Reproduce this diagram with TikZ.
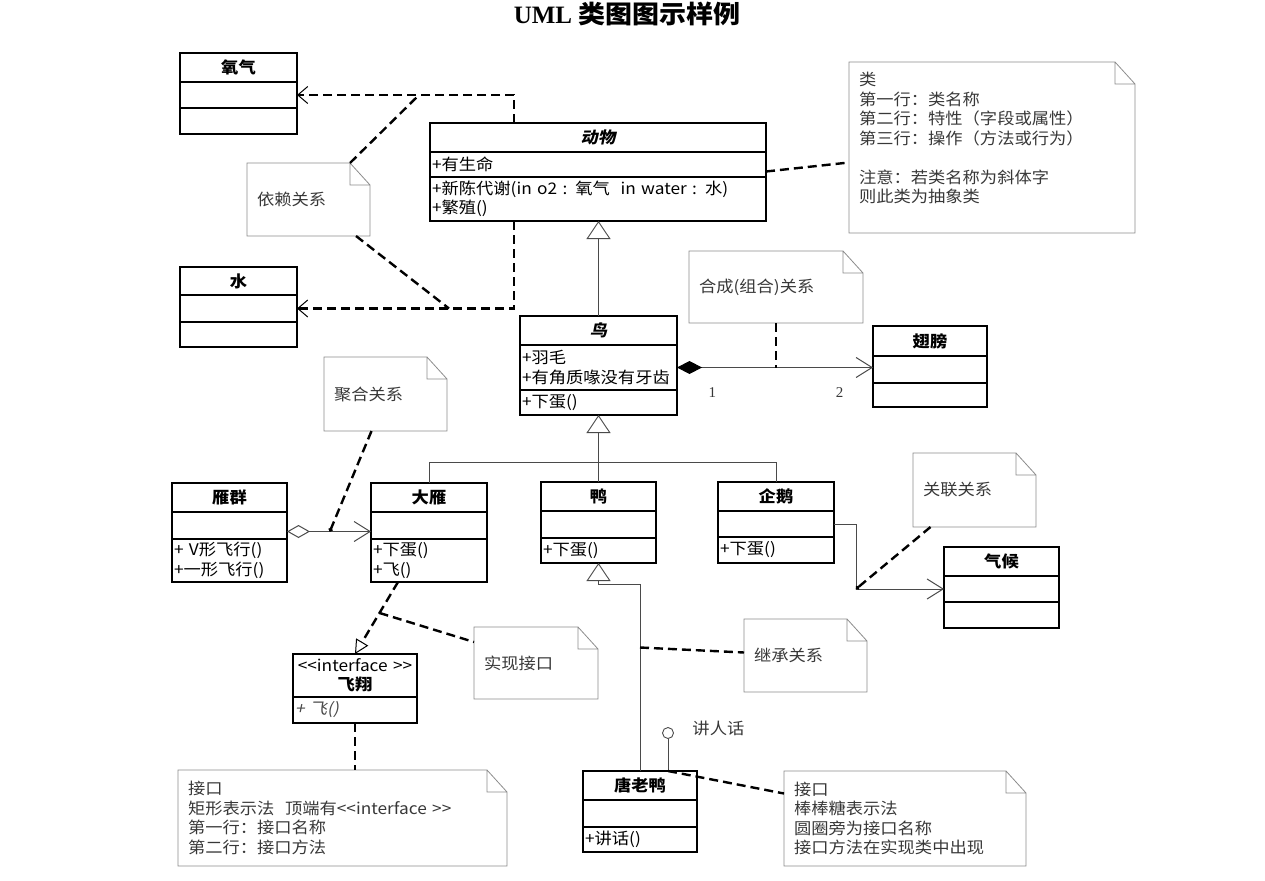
\documentclass[tikz,border=0pt]{standalone}
\usepackage{fontspec}
\setmainfont[AutoFakeSlant=0.2,FakeStretch=1.08]{Noto Sans CJK SC}
\newfontfamily\bislant[FakeSlant=0.2,FakeStretch=1.08]{Noto Sans CJK SC}
\newfontfamily\serifttl{Liberation Serif}
\usetikzlibrary{arrows.meta, positioning, calc}
\definecolor{notegray}{HTML}{8c8c8c}
\definecolor{notetext}{HTML}{383838}
\definecolor{relgray}{HTML}{4a4a4a}

\begin{document}
\begin{tikzpicture}[
  x=1pt, y=-1pt,
  every node/.style={font=\fontsize{16}{19.5}\selectfont},
  cls/.style={draw, line width=1.3pt, outer sep=0pt, inner xsep=2pt, inner ysep=0pt, text width=#1, align=left},
  clsname/.style={cls=#1, align=center, font=\fontsize{16}{19.5}\selectfont\bfseries},
  note/.style={anchor=north west, outer sep=0pt, inner xsep=10pt, inner ysep=0pt, text width=#1, align=left, text=notetext},
  notefrm/.style={draw=notegray, line width=.8pt},
  ttl/.style={font=\fontsize{25}{28}\selectfont\bfseries},
  mult/.style={font=\serifttl\fontsize{15}{18}\selectfont, text=notetext},
  lbl/.style={text=notetext},
  dep/.style={line width=2.4pt, dash pattern=on 9pt off 5pt},
  rel/.style={draw=relgray, line width=.9pt},
  openhd/.style={-{Straight Barb[length=16pt,width=20pt,line width=1pt]}},
  dephd/.style={-{Straight Barb[length=10pt,width=17pt,line width=1pt]}},
  gen/.style={rel, -{Triangle[length=18pt,width=24pt,fill=white,line width=.9pt]}},
  real/.style={dep, -{Triangle[length=14pt,width=14pt,fill=white,line width=1pt]}},
  lolli/.style={circle, draw=relgray, line width=.9pt, minimum size=11pt, inner sep=0pt}
]
\useasboundingbox (0,0) rectangle (1265,880);

\node[ttl] (title) at (627,14) {{\serifttl UML} 类图图示样例};

\node[clsname=113pt, minimum height=29, anchor=north west] (oxy) at (180,53) {氧气};
\node[cls=113pt, minimum height=26, below=0pt of oxy] (oxy-a) {};
\node[cls=113pt, minimum height=26, below=0pt of oxy-a] (oxy-o) {};

\node[clsname=113pt, minimum height=28, anchor=north west] (water) at (180,267) {水};
\node[cls=113pt, minimum height=27, below=0pt of water] (water-a) {};
\node[cls=113pt, minimum height=25, below=0pt of water-a] (water-o) {};

\node[clsname=332pt, minimum height=29, anchor=north west] (animal) at (430,123) {\bislant\bfseries 动物};
\node[cls=332pt, minimum height=25, below=0pt of animal] (animal-a) {+有生命};
\node[cls=332pt, minimum height=44, below=0pt of animal-a] (animal-o) {+新陈代谢(in o2 : 氧气\ \ in water : 水)\\+繁殖()};

\node[clsname=153pt, minimum height=29, anchor=north west] (bird) at (520,316) {\bislant\bfseries 鸟};
\node[cls=153pt, minimum height=45, below=0pt of bird] (bird-a) {+羽毛\\+有角质喙没有牙齿};
\node[cls=153pt, minimum height=25, below=0pt of bird-a] (bird-o) {+下蛋()};

\node[clsname=110pt, minimum height=30, anchor=north west] (wing) at (873,326) {翅膀};
\node[cls=110pt, minimum height=27, below=0pt of wing] (wing-a) {};
\node[cls=110pt, minimum height=24, below=0pt of wing-a] (wing-o) {};

\node[clsname=111pt, minimum height=29, anchor=north west] (flock) at (172,483) {雁群};
\node[cls=111pt, minimum height=27, below=0pt of flock] (flock-a) {};
\node[cls=111pt, minimum height=43, below=0pt of flock-a] (flock-o) {+ V形飞行()\\+一形飞行()};

\node[clsname=112pt, minimum height=29, anchor=north west] (goose) at (371,483) {大雁};
\node[cls=112pt, minimum height=27, below=0pt of goose] (goose-a) {};
\node[cls=112pt, minimum height=43, below=0pt of goose-a] (goose-o) {+下蛋()\\+飞()};

\node[clsname=111pt, minimum height=29, anchor=north west] (duck) at (541,482) {鸭};
\node[cls=111pt, minimum height=27, below=0pt of duck] (duck-a) {};
\node[cls=111pt, minimum height=25, below=0pt of duck-a] (duck-o) {+下蛋()};

\node[clsname=112pt, minimum height=29, anchor=north west] (penguin) at (718,482) {企鹅};
\node[cls=112pt, minimum height=26, below=0pt of penguin] (penguin-a) {};
\node[cls=112pt, minimum height=26, below=0pt of penguin-a] (penguin-o) {+下蛋()};

\node[clsname=111pt, minimum height=29, anchor=north west] (climate) at (944,547) {气候};
\node[cls=111pt, minimum height=26, below=0pt of climate] (climate-a) {};
\node[cls=111pt, minimum height=26, below=0pt of climate-a] (climate-o) {};

\node[clsname=110pt, minimum height=29, anchor=north west] (donald) at (583,771) {唐老鸭};
\node[cls=110pt, minimum height=27, below=0pt of donald] (donald-a) {};
\node[cls=110pt, minimum height=25, below=0pt of donald-a] (donald-o) {+讲话()};

\node[clsname=120pt, minimum height=43, anchor=north west] (fly) at (293,654) {{\mdseries <{}<interface >{}>}\\飞翔};
\node[cls=120pt, minimum height=26, below=0pt of fly] (fly-o) {\color{relgray}\itshape + 飞()};

\node[note=103pt, minimum height=73] (depnote) at (247,163) {依赖关系};
\node[note=266pt, minimum height=171] (clsnote) at (849,62) {类\\第一行：类名称\\第二行：特性（字段或属性）\\第三行：操作（方法或行为）\\ \mbox{}\\注意：若类名称为斜体字\\则此类为抽象类\\ \mbox{}};
\node[note=154pt, minimum height=72] (compnote) at (689,251) {合成(组合)关系};
\node[note=103pt, minimum height=74] (aggnote) at (324,357) {聚合关系};
\node[note=103pt, minimum height=74] (assnote) at (913,453) {关联关系};
\node[note=104pt, minimum height=72] (realnote) at (474,627) {实现接口};
\node[note=103pt, minimum height=73] (inhnote) at (744,619) {继承关系};
\node[note=309pt, minimum height=96] (ifnote) at (178,770) {接口\\矩形表示法\ \ 顶端有<{}<interface >{}>\\第一行：接口名称\\第二行：接口方法};
\node[note=222pt, minimum height=95] (lolnote) at (784,771) {接口\\棒棒糖表示法\\圆圈旁为接口名称\\接口方法在实现类中出现};

\foreach \n in {depnote,clsnote,compnote,aggnote,assnote,realnote,inhnote,ifnote,lolnote}
  \draw[notefrm] (\n.north west) -- ([xshift=-20pt]\n.north east) -- ([yshift=-22pt]\n.north east)
    -- (\n.south east) -- (\n.south west) -- cycle
    ([xshift=-20pt]\n.north east) |- ([yshift=-22pt]\n.north east);

\coordinate (depup) at ([xshift=122pt]oxy-a.east);
\coordinate (depdown) at ([xshift=152pt]water-a.east);
\draw[dep, dephd] ([xshift=-84pt]animal.north) |- (oxy-a.east);
\draw[dep, dephd] ([xshift=-84pt]animal-o.south) |- (water-a.east);
\draw[dep] ([xshift=-20pt]depnote.north east) -- (depup);
\draw[dep] ([xshift=-14pt]depnote.south east) -- (depdown);
\draw[dep] ([yshift=-7pt]animal-a.east) -- ([yshift=-15pt]clsnote.west);

\draw[gen] (bird.north) -- (bird.north |- animal-o.south);

\draw[rel, {Diamond[length=25pt,width=13pt,black]}-{Straight Barb[length=16pt,width=20pt,line width=1pt]}]
  (bird-a.east) -- (bird-a.east -| wing.west)
  node[mult, pos=.18, below=16pt] {1} node[mult, pos=.83, below=16pt] {2};
\draw[dep] (compnote.south) -- (compnote.south |- bird-a.east);

\coordinate[below=47pt of bird-o.south] (fork);
\draw[gen] (goose.north) |- (fork) -- (bird-o.south);
\draw[rel] (duck.north) -- (fork);
\draw[rel] (penguin.north) |- (fork);

\draw[rel, {Diamond[length=23pt,width=13pt,fill=white,line width=1pt]}-{Straight Barb[length=16pt,width=20pt,line width=1pt]}]
  ([yshift=-6pt]flock-a.east) -- ([yshift=-6pt]goose-a.west) coordinate[pos=.51] (aggpt);
\draw[dep, -{Circle[length=4pt]}] ([xshift=-14pt]aggnote.south) -- (aggpt);

\coordinate (asspt) at ([xshift=22pt]penguin-a.east |- climate-a.west);
\draw[rel, openhd] (penguin-a.east) -| (asspt) -- (climate-a.west);
\draw[dep, -{Circle[length=4pt]}] ([xshift=-44pt]assnote.south) -- (asspt);

\draw[real] ([xshift=-31pt]goose-o.south) -- (fly.north) coordinate[pos=.43] (realpt);
\draw[dep] (realpt) -- ([yshift=21pt]realnote.west);
\draw[dep] (fly-o.south) -- (fly-o.south |- ifnote.north);

\draw[gen] (donald.north) |- ([yshift=-21pt]duck-o.south) -- (duck-o.south);
\draw[dep] ([yshift=8pt]inhnote.west -| donald.north) -- ([yshift=3pt]inhnote.west);

\node[lolli] (talk) at ([xshift=28pt,yshift=38pt]donald.north) {};
\node[lbl, right=15pt of talk, yshift=5pt] (talklbl) {讲人话};
\draw[rel] (talk) -- (talk |- donald.north);
\draw[dep] (talk |- donald.north) -- ([yshift=25pt]lolnote.west);
\end{tikzpicture}
\end{document}
